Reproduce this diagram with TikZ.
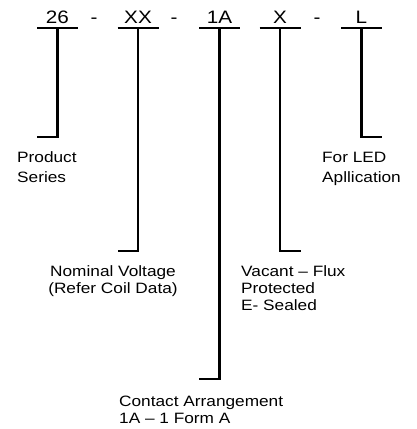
\documentclass[tikz,border=0pt]{standalone}
\usepackage{fontspec}
\setmainfont{Liberation Sans}[FakeStretch=1.15]
\begin{document}
\begin{tikzpicture}[x=1pt,y=-1pt,
  code/.style={font=\fontsize{18}{20}\selectfont, inner sep=0pt, anchor=base},
  lbl/.style={font=\fontsize{15}{17}\selectfont, inner sep=0pt, align=left, anchor=base west},
  wide/.style={font=\fontsize{15}{20}\selectfont},
  bar/.style={line width=2.2pt}]
\useasboundingbox (0,0) rectangle (417,429);
% code characters
\node[code] (c1) at (57.5,23) {26};
\node[code] (d1) at (94,23) {-};
\node[code] (c2) at (138,23) {XX};
\node[code] (d2) at (174,23) {-};
\node[code] (c3) at (219.5,23) {1A};
\node[code] (c4) at (280,23) {X};
\node[code] (d3) at (317,23) {-};
\node[code] (c5) at (361.5,23) {L};
% bar tops
\coordinate (b1) at (57.5,28);
\coordinate (b2) at (138,28);
\coordinate (b3) at (219.5,28);
\coordinate (b4) at (280,28);
\coordinate (b5) at (361.5,28);
% feet
\coordinate (f1) at (57.5,137);
\coordinate (f2) at (138,251);
\coordinate (f3) at (219.5,379);
\coordinate (f4) at (280,251);
\coordinate (f5) at (361.5,137);
\foreach \i in {1,...,5}{
  \draw[bar] ([xshift=-20.5pt]b\i) -- ([xshift=20.5pt]b\i);
}
\draw[bar] (b1) -- (f1) -- ++(-20.5,0);
\draw[bar] (b2) -- (f2) -- ++(-20.5,0);
\draw[bar] (b3) -- (f3) -- ++(-20.5,0);
\draw[bar] (b4) -- (f4) -- ++(20.5,0);
\draw[bar] (b5) -- (f5) -- ++(20.5,0);
% labels (anchored at the baseline of their last line)
\node[lbl, wide] (l1) at (17,182) {Product\\Series};
\node[lbl, align=center, anchor=base] (l2) at (113,293) {Nominal Voltage\\(Refer Coil Data)};
\node[lbl] (l3) at (119,423) {Contact Arrangement\\1A – 1 Form A};
\node[lbl] (l4) at (241,310) {Vacant – Flux\\Protected\\E- Sealed};
\node[lbl, wide] (l5) at (322,182) {For LED\\Apllication};
\end{tikzpicture}
\end{document}
